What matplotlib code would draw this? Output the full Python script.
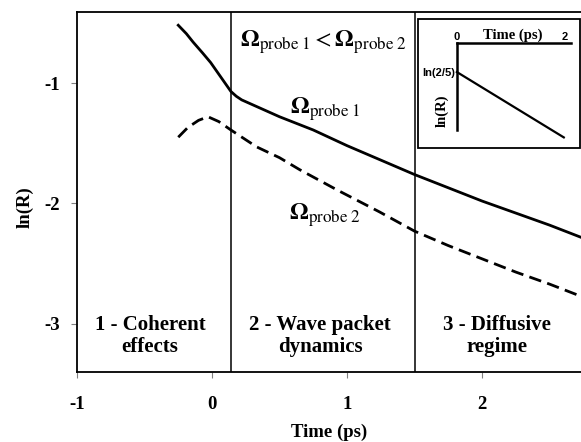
import numpy as np
import matplotlib
matplotlib.use("Agg")
import matplotlib.pyplot as plt
from matplotlib.patches import Rectangle

plt.rcParams['font.family'] = ['Liberation Serif', 'DejaVu Serif']
plt.rcParams['mathtext.fontset'] = 'stix'
plt.rcParams['axes.unicode_minus'] = False

# curve: ln(R) vs time (ps)
t_probe1 = [-0.25, -0.19, -0.14, -0.07, -0.01, 0.04, 0.09, 0.14, 0.18, 0.22, 0.30, 0.40,
            0.50, 0.75, 1.00, 1.25, 1.50, 1.75, 2.00, 2.25, 2.50, 2.73]
lnr_probe1 = [-0.52, -0.59, -0.66, -0.75, -0.83, -0.91, -0.99, -1.07, -1.11, -1.14, -1.18, -1.23,
              -1.28, -1.39, -1.52, -1.64, -1.76, -1.87, -1.98, -2.08, -2.18, -2.28]

t_probe2 = [-0.25, -0.18, -0.10, -0.03, 0.05, 0.14, 0.33, 0.50, 0.65, 0.93,
            1.24, 1.50, 1.75, 2.00, 2.25, 2.50, 2.73]
lnr_probe2 = [-1.45, -1.37, -1.31, -1.28, -1.32, -1.39, -1.53, -1.62, -1.72, -1.89,
              -2.07, -2.23, -2.35, -2.46, -2.57, -2.67, -2.77]

region_bounds = [0.14, 1.5]
region_labels = ["1 - Coherent\neffects", "2 - Wave packet\ndynamics", "3 - Diffusive\nregime"]
region_label_x = [-0.46, 0.80, 2.11]

# inset: straight decay from ln(2/5)
inset_t = [0.0, 1.98]
inset_lnr = [np.log(2 / 5), -1.57]

fig = plt.figure(figsize=(5.81, 4.42), dpi=100)
ax = fig.add_axes([77 / 581, 1 - 372 / 442, 1 - 77 / 581, 360 / 442])

ax.plot(t_probe1, lnr_probe1, color='black', lw=2.0, solid_joinstyle='round')
ax.plot(t_probe2, lnr_probe2, color='black', lw=2.0, dashes=(4.5, 2.3))
for b in region_bounds:
    ax.axvline(b, color='black', lw=1.1)

ax.set_xlim(-1, 2.733)
ax.set_ylim(-3.40, -0.41)
ax.set_xticks([-1, 0, 1, 2])
ax.set_yticks([-1, -2, -3])
ax.tick_params(axis='x', length=4, width=0.8, color='grey', pad=13.5, labelsize=13.5)
ax.tick_params(axis='y', length=4, width=0.8, color='grey', pad=8, labelsize=13.5)
for lab in ax.get_xticklabels() + ax.get_yticklabels():
    lab.set_fontweight('bold')
ax.spines['right'].set_visible(False)
for s in ['left', 'top', 'bottom']:
    ax.spines[s].set_linewidth(1.3)

ax.set_xlabel("Time (ps)", fontsize=13.5, fontweight='bold', va='center')
ax.xaxis.set_label_coords(0.5, -0.169)
ax.set_ylabel("ln(R)", fontsize=13.5, fontweight='bold', va='center')
ax.yaxis.set_label_coords(-0.103, 0.458)

for lx, lab in zip(region_label_x, region_labels):
    ax.text(lx, -3.10, lab, ha='center', va='center', fontsize=15,
            fontweight='bold', linespacing=1.15)

ax.text(0.21, -0.66, r'$\mathbf{\Omega}_{\mathrm{probe\ 1}} < \mathbf{\Omega}_{\mathrm{probe\ 2}}$',
        fontsize=17.5, ha='left', va='center')
ax.text(0.58, -1.22, r'$\mathbf{\Omega}_{\mathrm{probe\ 1}}$', fontsize=17.5, ha='left', va='center')
ax.text(0.57, -2.10, r'$\mathbf{\Omega}_{\mathrm{probe\ 2}}$', fontsize=17.5, ha='left', va='center')

# inset
ins = fig.add_axes([418 / 581, 1 - 148 / 442, 162 / 581, 129 / 442])
ins.set_xlim(-0.72, 2.28)
ins.set_ylim(-1.676, -0.386)
ins.patch.set_facecolor('white')
ins.add_patch(Rectangle((0, 0), 1, 1, transform=ins.transAxes, fill=False,
                        edgecolor='black', lw=1.3, clip_on=False))
ins.plot(inset_t, inset_lnr, color='black', lw=1.6)
for s in ['right', 'bottom']:
    ins.spines[s].set_visible(False)
ins.spines['left'].set_position(('data', 0))
ins.spines['left'].set_bounds(-1.496, -0.626)
ins.spines['left'].set_linewidth(1.8)
ins.spines['top'].set_position(('data', -0.626))
ins.spines['top'].set_bounds(0, 2.12)
ins.spines['top'].set_linewidth(1.8)
ins.xaxis.set_ticks_position('top')
ins.set_xticks([0, 2])
ins.set_xticklabels(['0', '2'], family='Liberation Sans', fontweight='bold', fontsize=8)
ins.set_yticks([np.log(2 / 5)])
ins.set_yticklabels(['ln(2/5)'], family='Liberation Sans', fontweight='bold', fontsize=8)
ins.tick_params(axis='both', length=0, pad=1)
ins.text(1.04, -0.55, "Time (ps)", ha='center', va='center', fontsize=10.5, fontweight='bold')
ins.text(-0.28, -1.30, "ln(R)", ha='center', va='center', fontsize=10.5,
         fontweight='bold', rotation=90)

fig.savefig("out.png", dpi=100)
